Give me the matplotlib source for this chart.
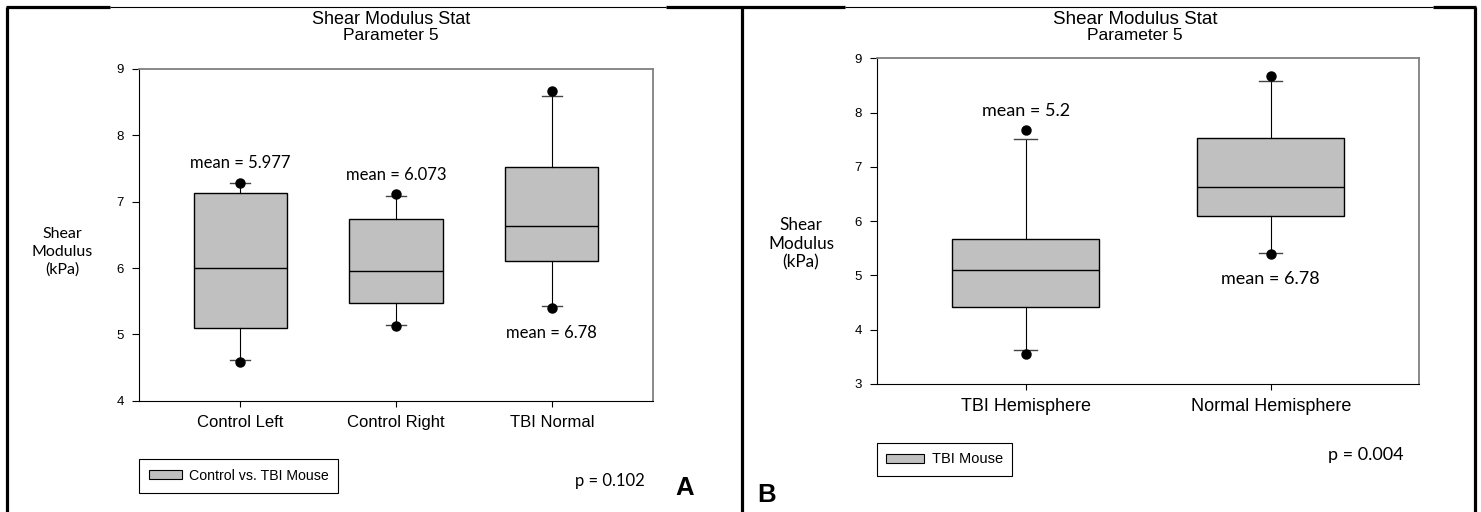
import matplotlib
matplotlib.use("Agg")
import matplotlib.pyplot as plt
from matplotlib.lines import Line2D
from matplotlib.patches import Patch

# panel A data
groups_a = ["Control Left", "Control Right", "TBI Normal"]
whislo_a = [4.61, 5.14, 5.43]
q1_a = [5.09, 5.47, 6.10]
med_a = [6.00, 5.95, 6.63]
q3_a = [7.13, 6.74, 7.53]
whishi_a = [7.28, 7.09, 8.59]
flier_lo_a = [4.58, 5.12, 5.39]
flier_hi_a = [7.28, 7.11, 8.67]
means_a = [5.977, 6.073, 6.78]

# panel B data
groups_b = ["TBI Hemisphere", "Normal Hemisphere"]
whislo_b = [3.63, 5.42]
q1_b = [4.41, 6.10]
med_b = [5.10, 6.62]
q3_b = [5.68, 7.53]
whishi_b = [7.52, 8.59]
flier_lo_b = [3.55, 5.39]
flier_hi_b = [7.68, 8.67]
means_b = [5.2, 6.78]

W, H = 1481, 512
BOX = "#c0c0c0"
HUM = ["Lato", "DejaVu Sans"]
ARI = ["Liberation Sans", "DejaVu Sans"]


def make_stats(labels, lo, q1, med, q3, hi, flo, fhi):
    return [dict(label=l, whislo=a, q1=b, med=c, q3=d, whishi=e, fliers=[f, g])
            for l, a, b, c, d, e, f, g in zip(labels, lo, q1, med, q3, hi, flo, fhi)]


def draw_panel(ax, stats, ylim, capw, margin, xfs):
    n = len(stats)
    ax.bxp(stats, positions=range(1, n + 1), widths=0.6, patch_artist=True,
           showfliers=True, capwidths=capw,
           boxprops=dict(facecolor=BOX, edgecolor="black", linewidth=1.0),
           medianprops=dict(color="black", linewidth=1.0),
           whiskerprops=dict(color="black", linewidth=0.8),
           capprops=dict(color="#444444", linewidth=1.0),
           flierprops=dict(marker="o", markerfacecolor="black",
                           markeredgecolor="black", markersize=6.5))
    ax.set_xlim(1 - margin, n + margin)
    ax.set_ylim(*ylim)
    ax.set_yticks(range(ylim[0], ylim[1] + 1))
    ax.set_xticks(range(1, n + 1))
    ax.set_xticklabels([s["label"] for s in stats], family=ARI, fontsize=xfs)
    for t in ax.get_yticklabels():
        t.set_family(ARI)
        t.set_fontsize(9.5)
    ax.tick_params(axis="y", direction="out", length=5, width=0.8, pad=6)
    ax.tick_params(axis="x", direction="out", length=4, width=0.8, pad=6)
    for side in ("top", "right"):
        ax.spines[side].set_color("#7f7f7f")
        ax.spines[side].set_linewidth(1.3)
    for side in ("left", "bottom"):
        ax.spines[side].set_color("black")
        ax.spines[side].set_linewidth(0.8)


fig = plt.figure(figsize=(W / 100, H / 100), dpi=100)

axA = fig.add_axes([139 / W, 1 - 400.7 / H, (653 - 139) / W, (400.7 - 69) / H])
statsA = make_stats(groups_a, whislo_a, q1_a, med_a, q3_a, whishi_a, flier_lo_a, flier_hi_a)
draw_panel(axA, statsA, (4, 9), 0.13, 0.65, 12)
mean_y_a = [7.59, 7.40, 5.02]
for i, (m, y) in enumerate(zip(means_a, mean_y_a)):
    axA.text(i + 1, y, f"mean = {m:g}", ha="center", va="center", family=HUM, fontsize=12)

axB = fig.add_axes([877.3 / W, 1 - 384 / H, (1419 - 877.3) / W, (384 - 58.3) / H])
statsB = make_stats(groups_b, whislo_b, q1_b, med_b, q3_b, whishi_b, flier_lo_b, flier_hi_b)
draw_panel(axB, statsB, (3, 9), 0.093, 0.605, 13)
mean_y_b = [8.02, 4.93]
for i, (m, y) in enumerate(zip(means_b, mean_y_b)):
    axB.text(i + 1, y, f"mean = {m:g}", ha="center", va="center", family=HUM, fontsize=13)

# titles, y labels
for cx, fs in ((391, 13), (1135, 13.5)):
    fig.text(cx / W, 1 - 19 / H, "Shear Modulus Stat", ha="center", va="center",
             family=ARI, fontsize=fs)
    fig.text(cx / W, 1 - 35 / H, "Parameter 5", ha="center", va="center",
             family=ARI, fontsize=12.5)
fig.text(62 / W, 1 - 252 / H, "Shear\nModulus\n(kPa)", ha="center", va="center",
         family=HUM, fontsize=11.5, linespacing=1.35)
fig.text(801 / W, 1 - 244 / H, "Shear\nModulus\n(kPa)", ha="center", va="center",
         family=HUM, fontsize=12.3, linespacing=1.2)

# legends
legA = fig.legend(handles=[Patch(facecolor=BOX, edgecolor="black", linewidth=0.8,
                                 label="Control vs. TBI Mouse")],
                  loc="upper left", bbox_to_anchor=(139 / W, 1 - 459 / H),
                  fancybox=False, edgecolor="black", framealpha=1,
                  prop=dict(family=ARI, size=10.2), handlelength=2.3, handleheight=0.6,
                  borderpad=0.7, borderaxespad=0, handletextpad=0.5)
legA.get_frame().set_linewidth(0.8)
legB = fig.legend(handles=[Patch(facecolor=BOX, edgecolor="black", linewidth=0.8,
                                 label="TBI Mouse")],
                  loc="upper left", bbox_to_anchor=(877 / W, 1 - 443 / H),
                  fancybox=False, edgecolor="black", framealpha=1,
                  prop=dict(family=ARI, size=10.5), handlelength=2.6, handleheight=0.6,
                  borderpad=0.65, borderaxespad=0, handletextpad=0.5)
legB.get_frame().set_linewidth(0.8)

fig.text(610 / W, 1 - 481 / H, "p = 0.102", ha="center", va="center", family=HUM, fontsize=12)
fig.text(1366 / W, 1 - 455 / H, "p = 0.004", ha="center", va="center", family=HUM, fontsize=13)
fig.text(685 / W, 1 - 488 / H, "A", ha="center", va="center", family=ARI,
         fontsize=18.5, fontweight="bold")
fig.text(767 / W, 1 - 495 / H, "B", ha="center", va="center", family=ARI,
         fontsize=18.5, fontweight="bold")

# outer frame of the two cells
thick, thin = 2.3, 0.8
def fline(x0, y0, x1, y1, lw):
    fig.add_artist(Line2D([x0 / W, x1 / W], [1 - y0 / H, 1 - y1 / H], color="black",
                          linewidth=lw, solid_capstyle="butt"))

fline(7, 7, 7, H, thick)
fline(742, 7, 742, H, thick)
fline(1475, 7, 1475, H, thick)
fline(6, 7, 110, 7, thick)
fline(110, 6.5, 666, 6.5, thin)
fline(666, 7, 845, 7, thick)
fline(845, 6.5, 1433, 6.5, thin)
fline(1433, 7, 1476, 7, thick)

fig.savefig("out.png", dpi=100)
